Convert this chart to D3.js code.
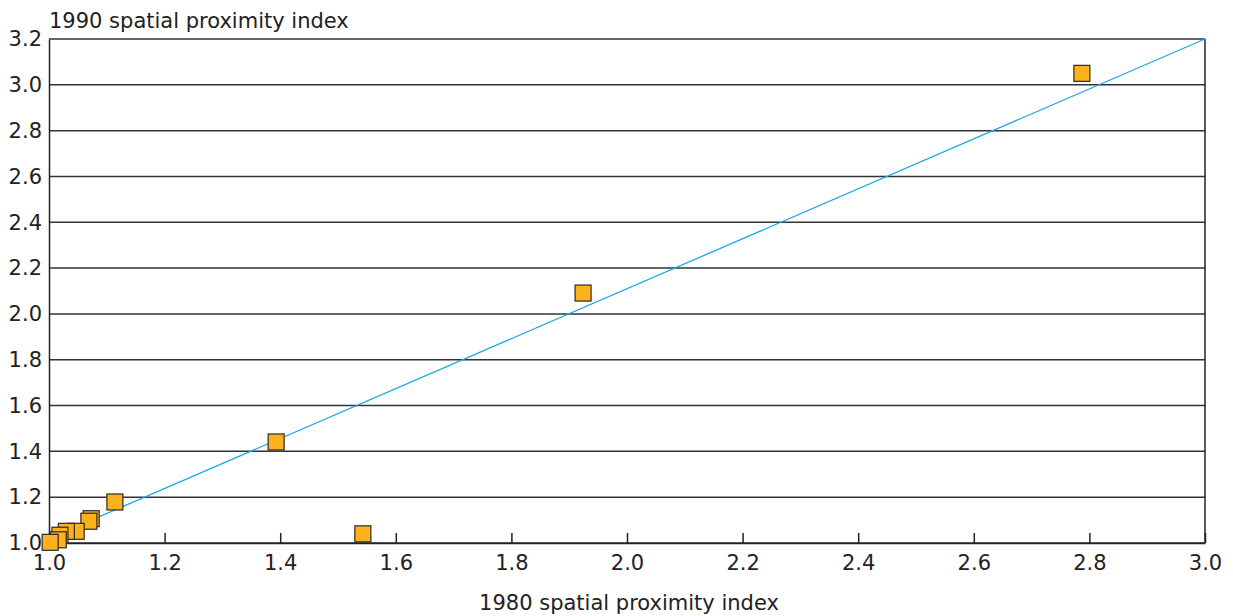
<!DOCTYPE html>
<html><head><meta charset="utf-8">
<script src="https://cdn.jsdelivr.net/npm/d3@7"></script>
<style>body{margin:0;background:#fff;} text{font-family:"DejaVu Sans",sans-serif;fill:#222;}</style>
</head><body>
<svg id="c" width="1233" height="616"></svg>
<script>
const xValues = [2.787, 1.924, 1.393, 1.543, 1.114, 1.073, 1.069, 1.047, 1.030, 1.019, 1.016, 1.002];
const yValues = [3.050, 2.091, 1.441, 1.040, 1.179, 1.106, 1.095, 1.051, 1.051, 1.034, 1.014, 1.003];
const fitLine = [[1.0, 1.02], [3.0, 3.2]];
const xTicks = [1.0, 1.2, 1.4, 1.6, 1.8, 2.0, 2.2, 2.4, 2.6, 2.8, 3.0];
const yTicks = [1.0, 1.2, 1.4, 1.6, 1.8, 2.0, 2.2, 2.4, 2.6, 2.8, 3.0, 3.2];
const xTitle = "1980 spatial proximity index";
const yTitle = "1990 spatial proximity index";

const L = 49, R = 1205, T = 39, B = 543;
const FS = "21px";
const svg = d3.select("#c");
const x = d3.scaleLinear().domain([1.0, 3.0]).range([L, R]);
const y = d3.scaleLinear().domain([1.0, 3.2]).range([B, T]);

// gridlines
svg.append("g").selectAll("line").data(yTicks).join("line")
  .attr("x1", L).attr("x2", R).attr("y1", d => y(d)).attr("y2", d => y(d))
  .attr("stroke", "#333").attr("stroke-width", 1.5);

// right border
svg.append("line").attr("x1", R).attr("x2", R).attr("y1", T).attr("y2", B)
  .attr("stroke", "#222").attr("stroke-width", 1.5);

// x axis
const xa = svg.append("g").attr("transform", `translate(0,${B})`)
  .call(d3.axisBottom(x).tickValues(xTicks).tickFormat(d3.format(".1f")).tickSizeInner(-10).tickSizeOuter(0).tickPadding(12));
xa.select(".domain").attr("stroke", "#222").attr("stroke-width", 1.5);
xa.selectAll(".tick line").attr("stroke", "#222").attr("stroke-width", 1.5);
xa.selectAll("text").style("font-size", FS).attr("fill", "#222").style("font-family", '"DejaVu Sans",sans-serif');

// y axis
const ya = svg.append("g").attr("transform", `translate(${L},0)`)
  .call(d3.axisLeft(y).tickValues(yTicks).tickFormat(d3.format(".1f")).tickSize(0).tickPadding(7));
ya.select(".domain").attr("stroke", "#222").attr("stroke-width", 1.5);
ya.selectAll("text").style("font-size", FS).attr("fill", "#222").style("font-family", '"DejaVu Sans",sans-serif');

// fit line
svg.append("line")
  .attr("x1", x(fitLine[0][0])).attr("y1", y(fitLine[0][1]))
  .attr("x2", x(fitLine[1][0])).attr("y2", y(fitLine[1][1]))
  .attr("stroke", "#1aa9e6").attr("stroke-width", 1.3);

// points
const pts = xValues.map((v, i) => [v, yValues[i]]);
const s = 16;
svg.append("g").selectAll("rect").data(pts).join("rect")
  .attr("x", d => x(d[0]) - s/2).attr("y", d => y(d[1]) - s/2)
  .attr("width", s).attr("height", s)
  .attr("fill", "#fdb11b").attr("stroke", "#2a2a2a").attr("stroke-width", 1.2);

// titles
svg.append("text").attr("x", L).attr("y", 28).style("font-size", FS).text(yTitle);
svg.append("text").attr("x", 629).attr("y", 610).attr("text-anchor", "middle").style("font-size", FS).text(xTitle);
</script>
</body></html>
